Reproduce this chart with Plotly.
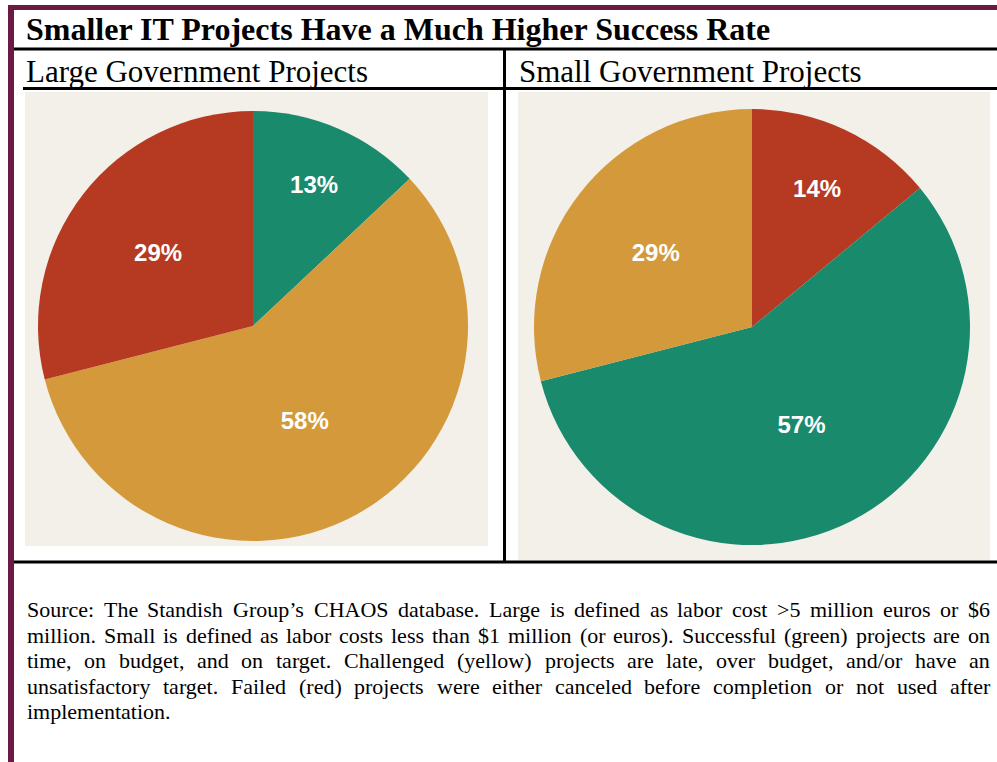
import plotly.graph_objects as go

# ---------------- data ----------------
title_text = "Smaller IT Projects Have a Much Higher Success Rate"
panel_titles = ["Large Government Projects", "Small Government Projects"]

large_labels = ["Successful", "Challenged", "Failed"]
large_values = [13, 58, 29]
large_colors = ["#1A8A6C", "#D3993A", "#B63A22"]

small_labels = ["Failed", "Successful", "Challenged"]
small_values = [14, 57, 29]
small_colors = ["#B63A22", "#1A8A6C", "#D3993A"]

footnote_lines = [
    "Source: The Standish Group’s CHAOS database. Large is defined as labor cost >5 million euros or $6",
    "million. Small is defined as labor costs less than $1 million (or euros). Successful (green) projects are on",
    "time, on budget, and on target. Challenged (yellow) projects are late, over budget, and/or have an",
    "unsatisfactory target. Failed (red) projects were either canceled before completion or not used after",
    "implementation.",
]

# ---------------- helpers ----------------
W, H = 997, 762
MAROON = "#6B1A42"
BEIGE = "#F3F0E9"
SERIF = "Liberation Serif, Times New Roman, serif"


def px(x):
    return x / W


def py(y):
    return 1 - y / H


# Times (Liberation Serif) advance widths per 1000 em
TW = {' ': 250, '!': 333, '$': 500, '%': 833, "'": 333, '’': 333, '(': 333, ')': 333,
      ',': 250, '-': 333, '.': 250, '/': 278, ':': 278, ';': 278, '>': 564, '<': 564,
      'A': 722, 'B': 667, 'C': 667, 'D': 722, 'E': 611, 'F': 556, 'G': 722, 'H': 722,
      'I': 333, 'J': 389, 'K': 722, 'L': 611, 'M': 889, 'N': 722, 'O': 722, 'P': 556,
      'Q': 722, 'R': 667, 'S': 556, 'T': 611, 'U': 722, 'V': 722, 'W': 944, 'X': 722,
      'Y': 722, 'Z': 611,
      'a': 444, 'b': 500, 'c': 444, 'd': 500, 'e': 444, 'f': 333, 'g': 500, 'h': 500,
      'i': 278, 'j': 278, 'k': 500, 'l': 278, 'm': 778, 'n': 500, 'o': 500, 'p': 500,
      'q': 500, 'r': 333, 's': 389, 't': 278, 'u': 500, 'v': 500, 'w': 722, 'x': 500,
      'y': 500, 'z': 444}
for d in "0123456789":
    TW[d] = 500


def text_width(s, size):
    return sum(TW.get(c, 500) for c in s) * size / 1000.0


fig = go.Figure()

# ---------------- pies ----------------
def pie_domain(cx, cy, r):
    return dict(x=[px(cx - r), px(cx + r)], y=[py(cy + r), py(cy - r)])


label_font = dict(family="Liberation Sans, Arial, sans-serif", size=24, color="white", weight="bold")

fig.add_trace(go.Pie(
    labels=large_labels, values=large_values, sort=False, direction="clockwise", rotation=0,
    marker=dict(colors=large_colors, line=dict(width=0)),
    texttemplate="%{value}%", textposition="inside", insidetextorientation="horizontal",
    insidetextfont=label_font, showlegend=False, hoverinfo="label+value",
    domain=pie_domain(253, 326, 215),
))
fig.add_trace(go.Pie(
    labels=small_labels, values=small_values, sort=False, direction="clockwise", rotation=0,
    marker=dict(colors=small_colors, line=dict(width=0)),
    texttemplate="%{value}%", textposition="inside", insidetextorientation="horizontal",
    insidetextfont=label_font, showlegend=False, hoverinfo="label+value",
    domain=pie_domain(752, 327, 218),
))

# ---------------- frame shapes ----------------
shapes = []


def rect(x0, y0, x1, y1, color):
    shapes.append(dict(type="rect", xref="paper", yref="paper",
                       x0=px(x0), x1=px(x1), y0=py(y1), y1=py(y0),
                       fillcolor=color, line=dict(width=0), layer="below"))


rect(25, 92, 488, 546, BEIGE)
rect(518, 92, 990, 560, BEIGE)
rect(8, 5, 997, 10, MAROON)
rect(8, 5, 14, 762, MAROON)
rect(14, 47.5, 997, 50.5, "black")
rect(23, 87, 997, 90, "black")
rect(503, 49, 506, 562, "black")
rect(14, 560.5, 997, 563.5, "black")

# ---------------- texts ----------------
annotations = []


def text_at(x, baseline, s, size, bold=False, anchor="left"):
    annotations.append(dict(
        x=px(x), y=py(baseline - 0.3375 * size), xref="paper", yref="paper",
        xanchor=anchor, yanchor="middle", showarrow=False, text=s, borderpad=0,
        font=dict(family=SERIF, size=size, color="black", weight="bold" if bold else "normal"),
    ))


text_at(25, 40, title_text, 32, bold=True)
text_at(25, 82, panel_titles[0], 31)
text_at(518, 82, panel_titles[1], 31)

FN_SIZE = 22
left_x, right_x = 27, 990
baseline = 617
for i, line in enumerate(footnote_lines):
    words = line.split(" ")
    if i < len(footnote_lines) - 1 and len(words) > 1:
        widths = [text_width(w, FN_SIZE) for w in words]
        gap = (right_x - left_x - sum(widths)) / (len(words) - 1)
        x = left_x
        for w, wd in zip(words, widths):
            text_at(x - 1, baseline, w, FN_SIZE)
            x += wd + gap
    else:
        text_at(left_x - 1, baseline, line, FN_SIZE)
    baseline += 25.5

fig.update_layout(
    width=W, height=H, margin=dict(l=0, r=0, t=0, b=0),
    paper_bgcolor="white", plot_bgcolor="white",
    shapes=shapes, annotations=annotations, showlegend=False,
)

fig.write_html(
    "out.html",
    config={"displayModeBar": False},
    post_script="document.body.style.margin='0';document.body.style.overflow='hidden';",
)
